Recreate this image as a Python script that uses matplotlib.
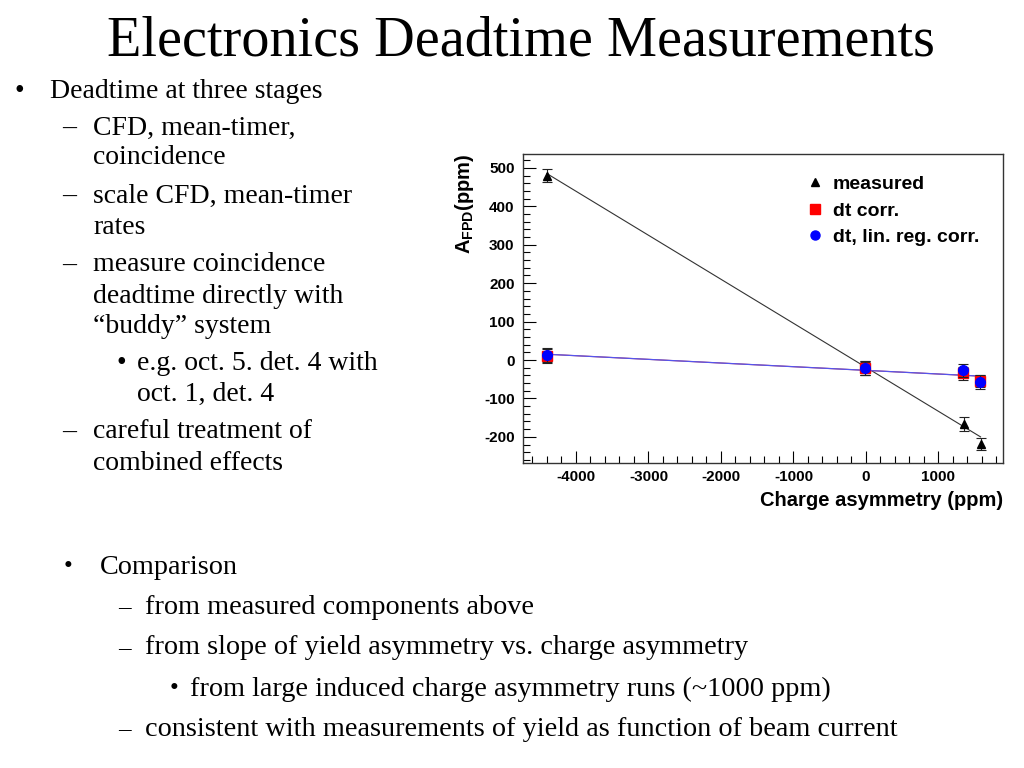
import numpy as np
import matplotlib
matplotlib.use('Agg')
import matplotlib.pyplot as plt
from matplotlib.ticker import MultipleLocator
from matplotlib.lines import Line2D

plt.rcParams['mathtext.fontset'] = 'custom'
plt.rcParams['mathtext.bf'] = 'Liberation Sans:bold'
plt.rcParams['mathtext.rm'] = 'Liberation Sans'
plt.rcParams['axes.unicode_minus'] = False

# data
x_meas = [-4400, -20, 1350, 1580]
y_meas = [480, -20, -167, -218]
e_meas = [18, 18, 18, 15]

x_dt = [-4400, -10, 1340, 1570]
y_dt = [10, -22, -35, -55]
e_dt = [18, 18, 18, 15]

x_lr = [-4400, -10, 1340, 1570]
y_lr = [12, -20, -27, -58]
e_lr = [18, 18, 16, 18]

# fitted lines (endpoints)
fit_x = [-4400, 1580]
fit_meas = [485, -200]
fit_dt = [15, -42]
fit_lr = [15, -42]

sans = 'Liberation Sans'
serif = 'Liberation Serif'

fig = plt.figure(figsize=(10.24, 7.68), dpi=100)
W, H = 1024, 768

def px(x, y):
    return x / W, 1 - y / H

# title
fig.text(*px(521, 42), 'Electronics Deadtime Measurements', family=serif,
         fontsize=40.5, ha='center', va='center')

# upper bullets
upper = [
    (14, 50, 91, '\u2022', 'Deadtime at three stages'),
    (62, 93, 128, '\u2013', 'CFD, mean-timer,'),
    (None, 93, 158, '', 'coincidence'),
    (62, 93, 196, '\u2013', 'scale CFD, mean-timer'),
    (None, 93, 227, '', 'rates'),
    (62, 93, 265, '\u2013', 'measure coincidence'),
    (None, 93, 296, '', 'deadtime directly with'),
    (None, 93, 326, '', '\u201cbuddy\u201d system'),
    (117, 137, 363, '\u2022', 'e.g. oct. 5. det. 4 with'),
    (None, 137, 394, '', 'oct. 1, det. 4'),
    (62, 93, 432, '\u2013', 'careful treatment of'),
    (None, 93, 463, '', 'combined effects'),
]
for bx, tx, y, b, t in upper:
    if bx is not None:
        fig.text(*px(bx, y), b, family=serif, fontsize=20, ha='left', va='center')
    fig.text(*px(tx, y), t, family=serif, fontsize=20, ha='left', va='center')

lower = [
    (64, 100, 567, '\u2022', 'Comparison'),
    (118, 145, 607, '\u2013', 'from measured components above'),
    (118, 145, 648, '\u2013', 'from slope of yield asymmetry vs. charge asymmetry'),
    (170, 190, 689, '\u2022', 'from large induced charge asymmetry runs (~1000 ppm)'),
    (118, 145, 729, '\u2013', 'consistent with measurements of yield as function of beam current'),
]
for bx, tx, y, b, t in lower:
    fig.text(*px(bx, y), b, family=serif, fontsize=18, ha='left', va='center')
    fig.text(*px(tx, y), t, family=serif, fontsize=20.3, ha='left', va='center')

# chart
ax = fig.add_axes([523 / W, 1 - 463 / H, 480 / W, 309 / H])
ax.plot(fit_x, fit_meas, color='#333333', lw=0.8, zorder=2)
ax.plot(fit_x, fit_dt, color='#cc3333', lw=0.8, zorder=2)
ax.plot(fit_x, fit_lr, color='#5555ee', lw=0.9, zorder=2)

ax.errorbar(x_meas, y_meas, yerr=e_meas, fmt='^', color='black', ms=6,
            ecolor='#222222', elinewidth=0.8, capsize=3.5, capthick=0.8, zorder=3)
ax.errorbar(x_dt, y_dt, yerr=e_dt, fmt='s', color='red', ms=7,
            ecolor='#222222', elinewidth=0.8, capsize=3.5, capthick=0.8, zorder=4)
ax.errorbar(x_lr, y_lr, yerr=e_lr, fmt='o', color='blue', ms=7,
            ecolor='#222222', elinewidth=0.8, capsize=3.5, capthick=0.8, zorder=5)

ax.set_xlim(-4730, 1890)
ax.set_ylim(-268, 536)
ax.xaxis.set_major_locator(MultipleLocator(1000))
ax.xaxis.set_minor_locator(MultipleLocator(200))
ax.yaxis.set_major_locator(MultipleLocator(100))
ax.yaxis.set_minor_locator(MultipleLocator(20))
ax.tick_params(which='both', direction='in', top=False, right=False,
               labelsize=11)
ax.tick_params(which='major', length=9, width=0.8)
ax.tick_params(which='minor', length=5, width=0.8)
for lab in ax.get_xticklabels() + ax.get_yticklabels():
    lab.set_family(sans)
    lab.set_fontweight('bold')
ax.tick_params(axis='x', pad=5)
ax.tick_params(axis='y', pad=6)
for s in ax.spines.values():
    s.set_linewidth(1.0)
    s.set_color('#333333')

ax.set_xlabel('Charge asymmetry (ppm)', family=sans, fontweight='bold',
              fontsize=14.5, loc='right', labelpad=5)
ax.set_ylabel(r'$\mathbf{A_{FPD}(ppm)}$', fontsize=14.5, loc='top', labelpad=6)

handles = [
    Line2D([], [], ls='none', marker='^', color='black', ms=5.5),
    Line2D([], [], ls='none', marker='s', color='red', ms=6.5),
    Line2D([], [], ls='none', marker='o', color='blue', ms=6.5),
]
labels = ['measured', 'dt corr.', 'dt, lin. reg. corr.']
ax.legend(handles, labels, loc='upper left', bbox_to_anchor=(0.568, 0.955),
          frameon=False, prop={'family': sans, 'weight': 'bold', 'size': 14},
          handletextpad=0.3, labelspacing=0.45, handlelength=1.2,
          borderaxespad=0)

fig.savefig('out.png', dpi=100)
